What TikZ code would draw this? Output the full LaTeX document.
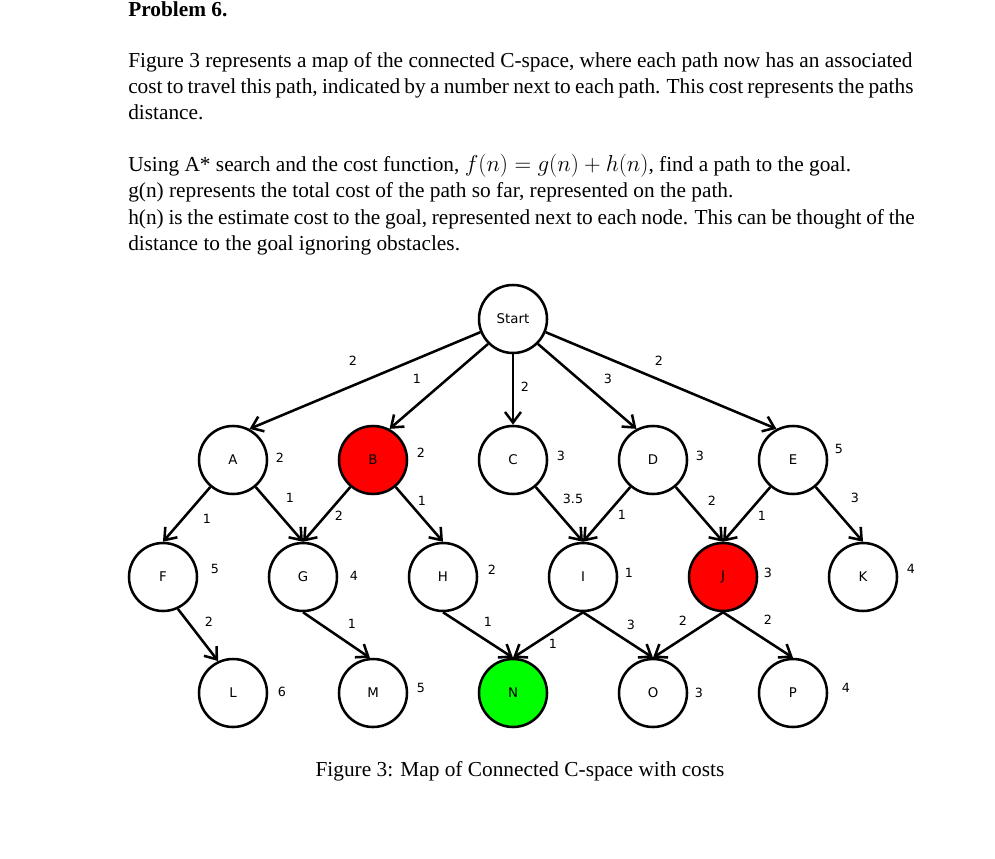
\documentclass[tikz,border=0pt]{standalone}
\usepackage{fontspec}
\setmainfont{Liberation Serif}
\newfontfamily\nodefont{DejaVu Sans}
\usetikzlibrary{arrows.meta}
\begin{document}
\begin{tikzpicture}[x=0.75pt,y=-0.75pt,
  st/.style={circle,draw,line width=1.9pt,minimum size=51pt,inner sep=0pt,font=\nodefont\fontsize{10}{11}\selectfont},
  ed/.style={line width=1.9pt,-{Straight Barb[length=8pt,width=12pt,line width=1.9pt]}},
  num/.style={font=\nodefont\fontsize{9.5}{11}\selectfont,inner sep=0pt},
  tx/.style={anchor=base west,inner sep=0pt,font=\fontsize{16}{18}\selectfont}]
\useasboundingbox (0,0) rectangle (995,859);
\fill[white] (0,0) rectangle (995,859);
\node[tx,font=\bfseries\fontsize{16}{18}\selectfont] (t0) at (128,17) {Problem 6.};
\node[tx] (t1) at (128,68) {Figure 3 represents a map of the connected C-space, where each path now has an associated};
\node[tx] (t2) at (128,94) {\spaceskip=0.2em plus 0.1em minus 0.1em cost to travel this path, indicated by a number next to each path. This cost represents the paths};
\node[tx] (t3) at (128,120) {distance.};
\node[tx] (t4) at (128,172) {Using A* search and the cost function, $f(n) = g(n) + h(n)$, find a path to the goal.};
\node[tx] (t5) at (128,198) {g(n) represents the total cost of the path so far, represented on the path.};
\node[tx] (t6) at (128,224) {\spaceskip=0.22em h(n) is the estimate cost to the goal, represented next to each node. This can be thought of the};
\node[tx] (t7) at (128,250) {distance to the goal ignoring obstacles.};
\node[tx,anchor=base] (cap) at (520,776) {Figure 3: Map of Connected C-space with costs};

\node[st] (S) at (513,319) {Start};
\node[st] (A) at (233,460) {A};
\node[st,fill=red] (B) at (373,460) {B};
\node[st] (C) at (513,460) {C};
\node[st] (D) at (653,460) {D};
\node[st] (E) at (793,460) {E};
\node[st] (F) at (163,577) {F};
\node[st] (G) at (303,577) {G};
\node[st] (H) at (443,577) {H};
\node[st] (I) at (583,577) {I};
\node[st,fill=red] (J) at (723,577) {J};
\node[st] (K) at (863,577) {K};
\node[st] (L) at (233,693) {L};
\node[st] (M) at (373,693) {M};
\node[st,fill=green] (N) at (513,693) {N};
\node[st] (O) at (653,693) {O};
\node[st] (P) at (793,693) {P};

\foreach \a/\p/\b/\q in {S/202/A/62,S/225/B/62,S/270/C/90,S/315/D/118,S/338/E/118,
  A/-130/F/90,A/-50/G/90,B/-130/G/90,B/-50/H/90,
  C/-50/I/90,D/-130/I/90,D/-50/J/90,E/-130/J/90,E/-50/K/90,
  F/-65/L/115,G/270/M/95,H/270/N/90,I/270/N/90,I/270/O/90,J/270/O/90,J/270/P/90}
  \draw[ed] (\a.\p) -- (\b.\q);

% edge costs
\foreach \x/\y/\t [count=\i] in {353/361/2,417/379/1,525/387/2,608/379/3,659/361/2,
  207/519/1,290/498/1,339/516/2,422/501/1,573/499/3.5,622/515/1,712/501/2,762/516/1,855/498/3,
  209/622/2,352/624/1,488/622/1,553/644/1,631/625/3,683/621/2,768/620/2}
  \node[num] (e\i) at (\x,\y) {\t};
% heuristics
\foreach \x/\y/\t [count=\i] in {280/458/2,421/453/2,561/456/3,700/456/3,839/449/5,
  215/569/5,354/576/4,492/570/2,629/573/1,768/573/3,911/569/4,
  282/692/6,421/688/5,699/693/3,846/688/4}
  \node[num] (h\i) at (\x,\y) {\t};
\end{tikzpicture}
\end{document}
